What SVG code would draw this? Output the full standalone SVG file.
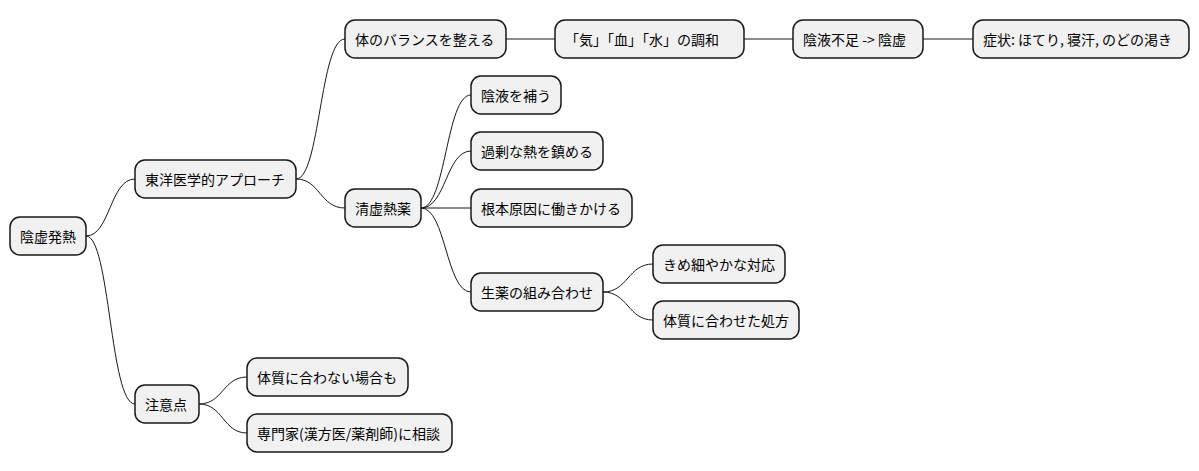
<svg xmlns="http://www.w3.org/2000/svg" width="1199" height="471" viewBox="0 0 1199 471">
<style>
.n rect{fill:#F1F1F1;stroke:#181818;stroke-width:1.5}
.n text{font-family:"Noto Sans CJK JP","Liberation Sans",sans-serif;font-size:14px;fill:#000;dominant-baseline:central}
#edges path{fill:none;stroke:#181818;stroke-width:1}
</style>
<rect width="1199" height="471" fill="#fff"/>
<g id="edges">
<path d="M86 236 C110 236 110 179 135 179"/>
<path d="M86 236 C110 236 110 404 135 404"/>
<path d="M296 179 C320 179 320 39 345 39"/>
<path d="M296 179 C320 179 320 208 345 208"/>
<path d="M506 39 H555"/>
<path d="M744 39 H793"/>
<path d="M923 39 H973"/>
<path d="M421 208 C446 208 446 95 471 95"/>
<path d="M421 208 C446 208 446 151 471 151"/>
<path d="M421 208 H471"/>
<path d="M421 208 C446 208 446 292 471 292"/>
<path d="M603 292 C628 292 628 264 653 264"/>
<path d="M603 292 C628 292 628 320 653 320"/>
<path d="M199 404 C223 404 223 377 247 377"/>
<path d="M199 404 C223 404 223 433 247 433"/>
</g>
<g id="n1" class="n"><rect x="10" y="217" width="76" height="38" rx="10"/><text x="20" y="236">陰虚発熱</text></g>
<g id="n2" class="n"><rect x="135" y="160" width="161" height="38" rx="10"/><text x="145" y="179">東洋医学的アプローチ</text></g>
<g id="n3" class="n"><rect x="135" y="385" width="64" height="38" rx="10"/><text x="145" y="404">注意点</text></g>
<g id="n4" class="n"><rect x="345" y="20" width="161" height="38" rx="10"/><text x="355" y="39">体のバランスを整える</text></g>
<g id="n5" class="n"><rect x="345" y="189" width="76" height="38" rx="10"/><text x="355" y="208">清虚熱薬</text></g>
<g id="n6" class="n"><rect x="555" y="20" width="189" height="38" rx="10"/><text x="565" y="39">「気」「血」「水」の調和</text></g>
<g id="n7" class="n"><rect x="793" y="20" width="130" height="38" rx="10"/><text x="803" y="39">陰液不足 -&gt; 陰虚</text></g>
<g id="n8" class="n"><rect x="973" y="20" width="216" height="38" rx="10"/><text x="983" y="39">症状: ほてり, 寝汗, のどの渇き</text></g>
<g id="n9" class="n"><rect x="471" y="76" width="90" height="38" rx="10"/><text x="481" y="95">陰液を補う</text></g>
<g id="n10" class="n"><rect x="471" y="132" width="132" height="38" rx="10"/><text x="481" y="151">過剰な熱を鎮める</text></g>
<g id="n11" class="n"><rect x="471" y="189" width="161" height="38" rx="10"/><text x="481" y="208">根本原因に働きかける</text></g>
<g id="n12" class="n"><rect x="471" y="273" width="132" height="38" rx="10"/><text x="481" y="292">生薬の組み合わせ</text></g>
<g id="n13" class="n"><rect x="653" y="245" width="132" height="38" rx="10"/><text x="663" y="264">きめ細やかな対応</text></g>
<g id="n14" class="n"><rect x="653" y="301" width="146" height="38" rx="10"/><text x="663" y="320">体質に合わせた処方</text></g>
<g id="n15" class="n"><rect x="247" y="358" width="161" height="38" rx="10"/><text x="257" y="377">体質に合わない場合も</text></g>
<g id="n16" class="n"><rect x="247" y="414" width="205" height="38" rx="10"/><text x="257" y="433">専門家(漢方医/薬剤師)に相談</text></g>
</svg>
